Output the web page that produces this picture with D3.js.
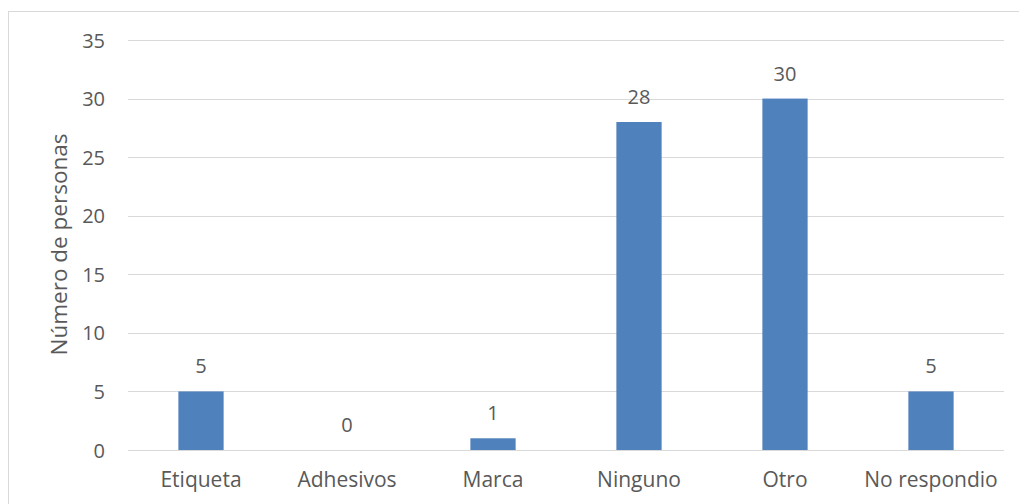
<!DOCTYPE html>
<html>
<head>
<meta charset="utf-8">
<script src="https://cdn.jsdelivr.net/npm/d3@7"></script>
<style>
  html, body { margin: 0; padding: 0; background: #fff; }
  svg text { font-family: "Open Sans", sans-serif; fill: #595959; }
</style>
</head>
<body>
<svg id="chart" width="1019" height="504"></svg>
<script>
// Categories and counts
const categories = ["Etiqueta", "Adhesivos", "Marca", "Ninguno", "Otro", "No respondio"];
const counts = [5, 0, 1, 28, 30, 5];
const yTicks = [0, 5, 10, 15, 20, 25, 30, 35];
const yTitle = "Número de personas";

const svg = d3.select("#chart");
const W = 1019, H = 504;
const plot = { left: 128, right: 1004, top: 40, bottom: 450 };

// Outer frame (top and left edges visible)
svg.append("rect")
  .attr("x", 8.5).attr("y", 11.5)
  .attr("width", W + 20).attr("height", H + 20)
  .attr("fill", "none").attr("stroke", "#d9d9d9").attr("stroke-width", 1);

const x = d3.scaleBand()
  .domain(categories)
  .range([plot.left, plot.right])
  .paddingInner(0.69)
  .paddingOuter(0.345);

const y = d3.scaleLinear()
  .domain([0, 35])
  .range([plot.bottom, plot.top]);

// Gridlines
svg.append("g")
  .selectAll("line")
  .data(yTicks)
  .join("line")
  .attr("x1", plot.left).attr("x2", plot.right)
  .attr("y1", d => Math.round(y(d)) + 0.5)
  .attr("y2", d => Math.round(y(d)) + 0.5)
  .attr("stroke", "#d9d9d9").attr("stroke-width", 1);

// Y axis tick labels
const yAxis = d3.axisLeft(y).tickValues(yTicks).tickSize(0).tickPadding(0);
const gy = svg.append("g")
  .attr("transform", `translate(${plot.left - 23},0)`)
  .call(yAxis);
gy.select(".domain").remove();
gy.selectAll("text")
  .style("font-size", "20px")
  .style("font-family", "'Open Sans', sans-serif")
  .attr("fill", "#595959")
  .attr("dy", "0.35em");

// X axis category labels
const xAxis = d3.axisBottom(x).tickSize(0).tickPadding(0);
const gx = svg.append("g")
  .attr("transform", `translate(0,${plot.bottom})`)
  .call(xAxis);
gx.select(".domain").remove();
gx.selectAll("text")
  .style("font-size", "21px")
  .style("font-family", "'Open Sans', sans-serif")
  .attr("fill", "#595959")
  .attr("y", 30)
  .attr("dy", "0.35em");

// Bars
svg.append("g")
  .selectAll("rect")
  .data(categories.map((c, i) => ({ c, v: counts[i] })))
  .join("rect")
  .attr("x", d => x(d.c))
  .attr("width", x.bandwidth())
  .attr("y", d => y(d.v))
  .attr("height", d => y(0) - y(d.v))
  .attr("fill", "#4f81bd");

// Value labels
svg.append("g")
  .selectAll("text")
  .data(categories.map((c, i) => ({ c, v: counts[i] })))
  .join("text")
  .attr("x", d => x(d.c) + x.bandwidth() / 2)
  .attr("y", d => y(d.v) - 25)
  .attr("dy", "0.35em")
  .attr("text-anchor", "middle")
  .style("font-size", "20px")
  .text(d => d.v);

// Y axis title
svg.append("text")
  .attr("transform", `translate(59,${(132 + 357) / 2}) rotate(-90)`)
  .attr("text-anchor", "middle")
  .attr("dy", "0.35em")
  .style("font-size", "22.5px")
  .text(yTitle);
</script>
</body>
</html>
